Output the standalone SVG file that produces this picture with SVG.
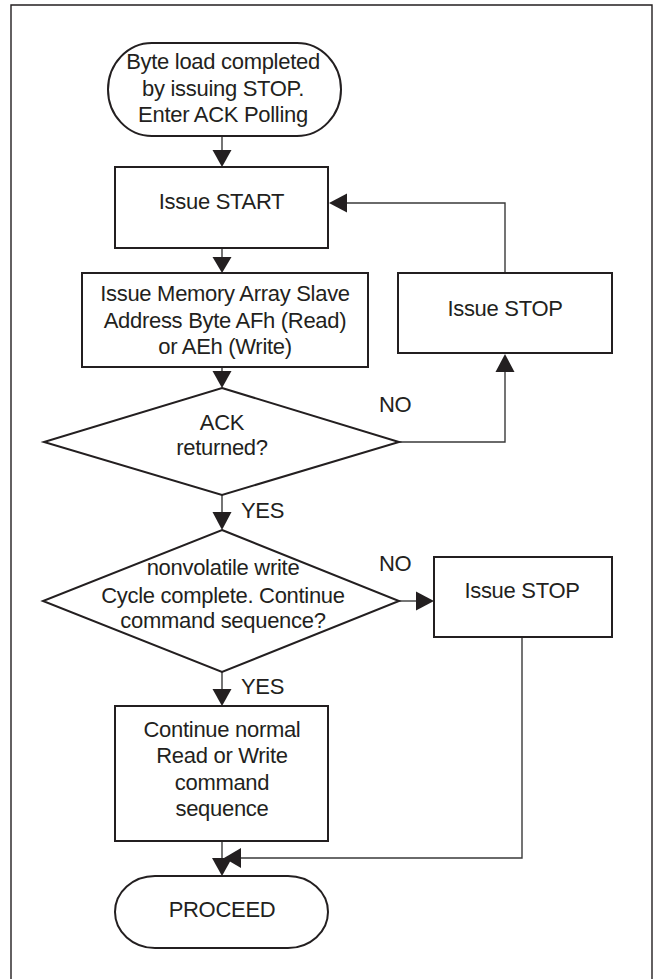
<svg xmlns="http://www.w3.org/2000/svg" width="654" height="979" viewBox="0 0 654 979">
<style>
.shape{fill:#fff;stroke:#231f20;stroke-width:2}
.conn{fill:none;stroke:#3a3a3a;stroke-width:1.4}
.head{fill:#231f20;stroke:none}
text{font-family:"Liberation Sans",Arial,sans-serif;font-size:22px;letter-spacing:-0.3px;fill:#231f20;text-anchor:middle}
.lbl{text-anchor:start}
</style>
<rect width="654" height="979" fill="#fff"/>
<path d="M11,985 V5 H652 V985" fill="none" stroke="#231f20" stroke-width="1.4"/>
<g id="connectors">
<line class="conn" x1="222" y1="136" x2="222" y2="152"/>
<polygon class="head" points="212.5,150 231.5,150 222,167"/>
<line class="conn" x1="222" y1="248" x2="222" y2="259"/>
<polygon class="head" points="212.5,257 231.5,257 222,273"/>
<line class="conn" x1="222" y1="367" x2="222" y2="373"/>
<polygon class="head" points="212.5,371 231.5,371 222,388"/>
<path class="conn" d="M399,442 H505 V370"/>
<polygon class="head" points="495.5,372 514.5,372 505,354"/>
<path class="conn" d="M505,273 V203 H345"/>
<polygon class="head" points="347,193.5 347,212.5 329,203"/>
<line class="conn" x1="222" y1="495" x2="222" y2="514"/>
<polygon class="head" points="212.5,512 231.5,512 222,530"/>
<line class="conn" x1="399" y1="601" x2="418" y2="601"/>
<polygon class="head" points="416,591.5 416,610.5 434,601"/>
<path class="conn" d="M522,637 V858 H239"/>
<polygon class="head" points="241,848 241,868 224,858"/>
<line class="conn" x1="222" y1="672" x2="222" y2="691"/>
<polygon class="head" points="212.5,689 231.5,689 222,706"/>
<line class="conn" x1="222" y1="841" x2="222" y2="860"/>
<polygon class="head" points="212,858 232,858 222,876"/>
</g>
<g id="start">
<rect class="shape" x="108" y="43" width="233" height="93" rx="44" ry="46.5"/>
<text x="223" y="69">Byte load completed</text>
<text x="223" y="96">by issuing STOP.</text>
<text x="223" y="122">Enter ACK Polling</text>
</g>
<g id="issue-start">
<rect class="shape" x="115" y="167" width="213" height="81"/>
<text x="221.5" y="209">Issue START</text>
</g>
<g id="slave-address">
<rect class="shape" x="82" y="273" width="286" height="94"/>
<text x="225" y="301">Issue Memory Array Slave</text>
<text x="225" y="328">Address Byte AFh (Read)</text>
<text x="225" y="354">or AEh (Write)</text>
</g>
<g id="ack-decision">
<polygon class="shape" points="222,388 399,442 222,495 44,442"/>
<text x="222" y="430">ACK</text>
<text x="222" y="455">returned?</text>
</g>
<g id="issue-stop-1">
<rect class="shape" x="398" y="273" width="214" height="80"/>
<text x="505" y="316">Issue STOP</text>
</g>
<g id="nv-decision">
<polygon class="shape" points="222,530 399,601 222,672 43,601"/>
<text x="223" y="575">nonvolatile write</text>
<text x="223" y="603">Cycle complete. Continue</text>
<text x="223" y="628">command sequence?</text>
</g>
<g id="issue-stop-2">
<rect class="shape" x="434" y="557" width="178" height="80"/>
<text x="522" y="598">Issue STOP</text>
</g>
<g id="continue">
<rect class="shape" x="115" y="706" width="213" height="135"/>
<text x="222" y="737">Continue normal</text>
<text x="222" y="763">Read or Write</text>
<text x="222" y="790">command</text>
<text x="222" y="816">sequence</text>
</g>
<g id="proceed">
<rect class="shape" x="115" y="876" width="213" height="72" rx="40" ry="36"/>
<text x="222" y="917">PROCEED</text>
</g>
<g id="labels">
<text class="lbl" x="379" y="412">NO</text>
<text class="lbl" x="241" y="518">YES</text>
<text class="lbl" x="379" y="571">NO</text>
<text class="lbl" x="241" y="694">YES</text>
</g>
</svg>
